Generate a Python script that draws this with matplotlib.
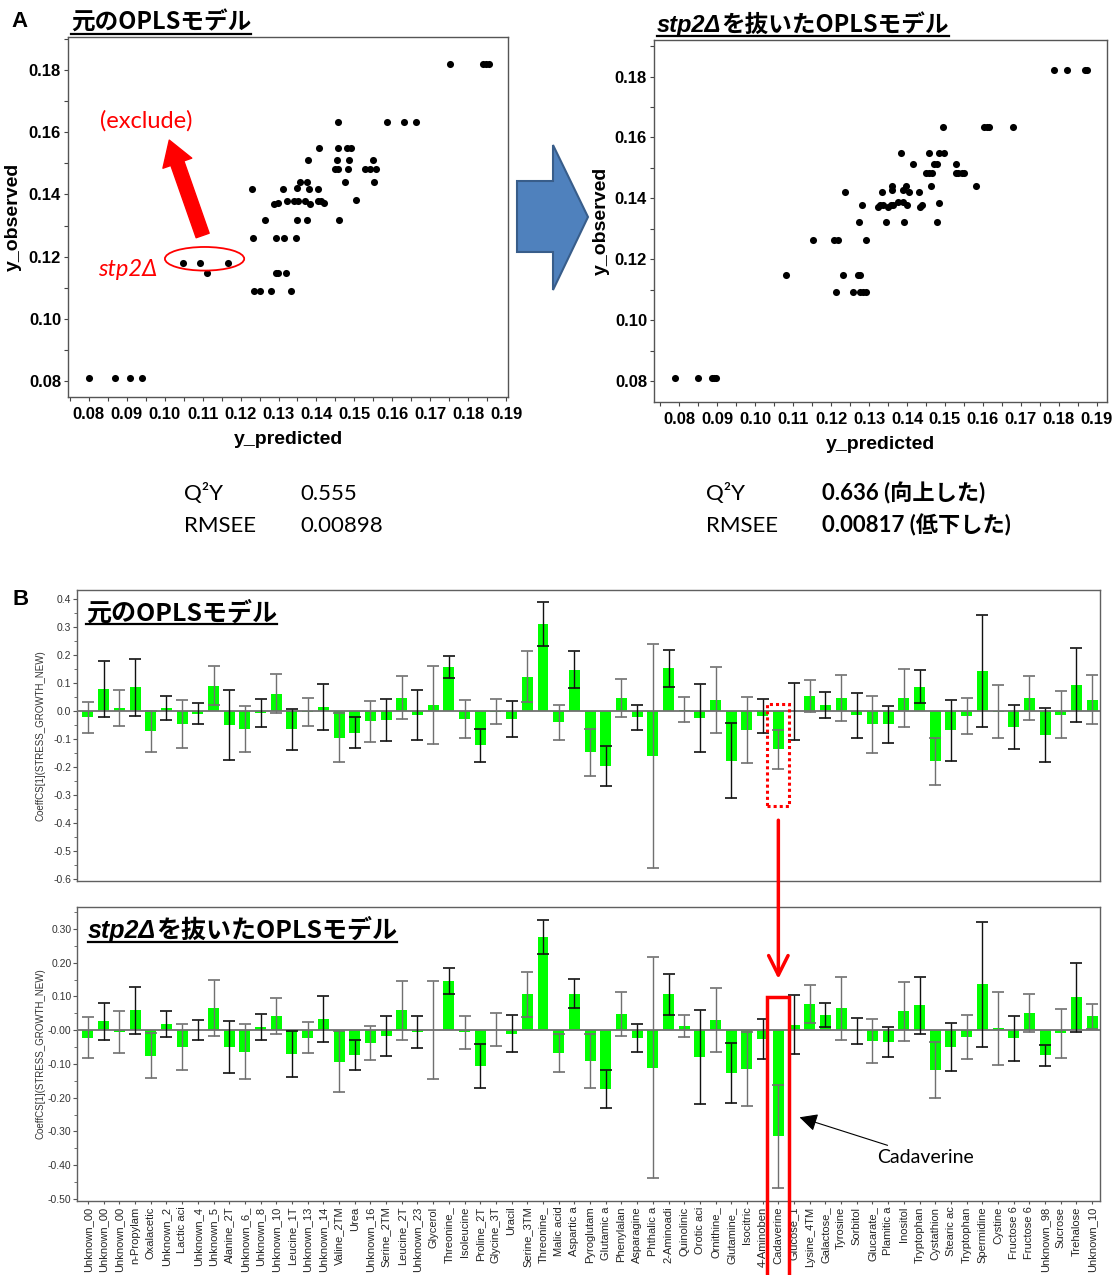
import matplotlib
matplotlib.use('Agg')
import numpy as np
import matplotlib.pyplot as plt
from matplotlib.patches import Ellipse, Rectangle, Polygon, ConnectionPatch
from matplotlib.lines import Line2D

plt.rcParams['font.family'] = ['Liberation Sans', 'Noto Sans CJK JP']

# ---- data: observed vs predicted (panel A) ----
pred_orig = [0.0800, 0.0870, 0.0908, 0.0939, 0.1049, 0.1092, 0.1111, 0.1167, 0.1229, 0.1232,
             0.1236, 0.1250, 0.1265, 0.1280, 0.1289, 0.1293, 0.1293, 0.1298, 0.1298, 0.1312,
             0.1315, 0.1320, 0.1322, 0.1332, 0.1342, 0.1346, 0.1348, 0.1351, 0.1349, 0.1357,
             0.1369, 0.1374, 0.1376, 0.1379, 0.1381, 0.1383, 0.1403, 0.1403, 0.1407, 0.1413,
             0.1420, 0.1449, 0.1456, 0.1454, 0.1456, 0.1457, 0.1460, 0.1476, 0.1480, 0.1483,
             0.1485, 0.1492, 0.1505, 0.1527, 0.1540, 0.1549, 0.1552, 0.1558, 0.1585, 0.1630,
             0.1663, 0.1751, 0.1838, 0.1847, 0.1854]
obs_orig = [0.0808, 0.0808, 0.0808, 0.0808, 0.1179, 0.1179, 0.1147, 0.1179, 0.1419, 0.1260,
            0.1088, 0.1088, 0.1319, 0.1088, 0.1369, 0.1260, 0.1147, 0.1147, 0.1373, 0.1419,
            0.1260, 0.1147, 0.1378, 0.1088, 0.1378, 0.1260, 0.1319, 0.1378, 0.1422, 0.1439,
            0.1378, 0.1319, 0.1439, 0.1511, 0.1419, 0.1369, 0.1419, 0.1378, 0.1550, 0.1378,
            0.1373, 0.1482, 0.1482, 0.1511, 0.1550, 0.1634, 0.1319, 0.1439, 0.1550, 0.1482,
            0.1511, 0.1550, 0.1383, 0.1482, 0.1482, 0.1511, 0.1439, 0.1482, 0.1634, 0.1634,
            0.1634, 0.1821, 0.1821, 0.1821, 0.1821]

pred_new = [0.0788, 0.0849, 0.0885, 0.0892, 0.0896, 0.1082, 0.1152, 0.1207, 0.1219, 0.1212,
            0.1232, 0.1236, 0.1257, 0.1270, 0.1275, 0.1274, 0.1276, 0.1280, 0.1284, 0.1291,
            0.1291, 0.1324, 0.1328, 0.1334, 0.1337, 0.1344, 0.1349, 0.1357, 0.1359, 0.1361,
            0.1364, 0.1376, 0.1385, 0.1388, 0.1390, 0.1392, 0.1397, 0.1399, 0.1406, 0.1415,
            0.1432, 0.1435, 0.1440, 0.1450, 0.1457, 0.1459, 0.1463, 0.1465, 0.1471, 0.1480,
            0.1480, 0.1484, 0.1484, 0.1495, 0.1497, 0.1528, 0.1528, 0.1535, 0.1544, 0.1551,
            0.1581, 0.1603, 0.1610, 0.1617, 0.1680, 0.1788, 0.1822, 0.1869, 0.1875]
obs_new = [0.0809, 0.0809, 0.0809, 0.0809, 0.0809, 0.1149, 0.1262, 0.1262, 0.1262, 0.1092,
           0.1149, 0.1420, 0.1092, 0.1149, 0.1149, 0.1322, 0.1092, 0.1379, 0.1092, 0.1092,
           0.1262, 0.1371, 0.1379, 0.1420, 0.1379, 0.1322, 0.1371, 0.1379, 0.1442, 0.1426,
           0.1379, 0.1387, 0.1550, 0.1426, 0.1387, 0.1322, 0.1442, 0.1379, 0.1420, 0.1512,
           0.1420, 0.1371, 0.1379, 0.1484, 0.1550, 0.1484, 0.1442, 0.1484, 0.1512, 0.1512,
           0.1322, 0.1384, 0.1550, 0.1633, 0.1550, 0.1512, 0.1484, 0.1484, 0.1484, 0.1484,
           0.1442, 0.1633, 0.1633, 0.1633, 0.1633, 0.1822, 0.1822, 0.1822, 0.1822]

# ---- data: coefficient plots (panel B) ----
labels = ['Unknown_00', 'Unknown_00', 'Unknown_00', 'n-Propylam', 'Oxalacetic', 'Unknown_2',
          'Lactic aci', 'Unknown_4', 'Unknown_5', 'Alanine_2T', 'Unknown_6_', 'Unknown_8',
          'Unknown_10', 'Leucine_1T', 'Unknown_13', 'Unknown_14', 'Valine_2TM', 'Urea',
          'Unknown_16', 'Serine_2TM', 'Leucine_2T', 'Unknown_23', 'Glycerol', 'Threonine_',
          'Isoleucine', 'Proline_2T', 'Glycine_3T', 'Uracil', 'Serine_3TM', 'Threonine_',
          'Malic acid', 'Aspartic a', 'Pyroglutam', 'Glutamic a', 'Phenylalan', 'Asparagine',
          'Phthalic a', '2-Aminoadi', 'Quinolinic', 'Orotic aci', 'Ornithine_', 'Glutamine_',
          'Isocitric', '4-Aminoben', 'Cadaverine', 'Glucose_1', 'Lysine_4TM', 'Galactose_',
          'Tyrosine', 'Sorbitol', 'Glucarate_', 'Plamitic a', 'Inositol', 'Tryptophan',
          'Cystathion', 'Stearic ac', 'Tryptophan', 'Spermidine', 'Cystine', 'Fructose 6',
          'Fructose 6', 'Unknown_98', 'Sucrose', 'Trehalose', 'Unknown_10']

coef_orig = [-0.022, 0.078, 0.010, 0.084, -0.072, 0.010, -0.047, -0.010, 0.090, -0.050,
             -0.065, -0.007, 0.062, -0.065, -0.004, 0.014, -0.095, -0.078, -0.037, -0.032,
             0.048, -0.014, 0.020, 0.158, -0.030, -0.122, -0.003, -0.030, 0.123, 0.310,
             -0.040, 0.148, -0.147, -0.196, 0.047, -0.023, -0.161, 0.152, 0.005, -0.025,
             0.038, -0.177, -0.069, -0.017, -0.137, -0.001, 0.053, 0.021, 0.047, -0.016,
             -0.048, -0.048, 0.047, 0.087, -0.180, -0.069, -0.017, 0.142, -0.002, -0.057,
             0.047, -0.087, -0.013, 0.093, 0.041]
err_orig = [0.055, 0.100, 0.065, 0.103, 0.073, 0.042, 0.086, 0.038, 0.070, 0.125,
            0.083, 0.050, 0.070, 0.073, 0.050, 0.082, 0.088, 0.055, 0.073, 0.075,
            0.078, 0.090, 0.139, 0.040, 0.068, 0.059, 0.045, 0.064, 0.092, 0.078,
            0.063, 0.065, 0.084, 0.072, 0.068, 0.046, 0.400, 0.065, 0.045, 0.121,
            0.118, 0.133, 0.118, 0.060, 0.070, 0.102, 0.056, 0.046, 0.083, 0.080,
            0.103, 0.065, 0.104, 0.060, 0.083, 0.109, 0.065, 0.200, 0.096, 0.079,
            0.078, 0.096, 0.083, 0.132, 0.087]

coef_new = [-0.022, 0.027, -0.006, 0.059, -0.075, 0.018, -0.050, 0.000, 0.067, -0.051,
            -0.064, 0.009, 0.042, -0.070, -0.022, 0.033, -0.093, -0.073, -0.037, -0.017,
            0.059, -0.006, 0.000, 0.146, -0.006, -0.106, 0.002, -0.010, 0.106, 0.277,
            -0.067, 0.108, -0.091, -0.173, 0.049, -0.024, -0.111, 0.106, 0.013, -0.079,
            0.030, -0.127, -0.116, -0.026, -0.314, 0.016, 0.077, 0.045, 0.065, -0.002,
            -0.032, -0.035, 0.056, 0.074, -0.119, -0.050, -0.020, 0.136, 0.006, -0.024,
            0.051, -0.074, -0.009, 0.097, 0.041]
err_new = [0.060, 0.055, 0.063, 0.070, 0.068, 0.038, 0.068, 0.030, 0.083, 0.077,
           0.082, 0.039, 0.053, 0.069, 0.047, 0.067, 0.090, 0.045, 0.050, 0.060,
           0.087, 0.048, 0.146, 0.038, 0.049, 0.066, 0.049, 0.055, 0.067, 0.050,
           0.057, 0.043, 0.079, 0.056, 0.065, 0.041, 0.327, 0.061, 0.033, 0.140,
           0.096, 0.089, 0.110, 0.058, 0.153, 0.087, 0.056, 0.036, 0.094, 0.039,
           0.065, 0.045, 0.088, 0.085, 0.083, 0.072, 0.065, 0.185, 0.108, 0.066,
           0.055, 0.031, 0.072, 0.101, 0.038]

yt_top = [0.4, 0.3, 0.2, 0.1, 0.0, -0.1, -0.2, -0.3, -0.4, -0.5, -0.6]
yt_bot = [0.3, 0.2, 0.1, 0.0, -0.1, -0.2, -0.3, -0.4, -0.5]
yt_bot_lab = ['0.30', '0.20', '0.10', '-0.00', '-0.10', '-0.20', '-0.30', '-0.40', '-0.50']

cad = labels.index('Cadaverine')

W, H = 1116, 1275
fig = plt.figure(figsize=(W / 100, H / 100), dpi=100)
renderer = fig.canvas.get_renderer()


def fx(px):
    return px / W


def fy(py):
    return 1 - py / H


def box(x0, y0, x1, y1):
    return [fx(x0), fy(y1), (x1 - x0) / W, (y1 - y0) / H]


def underlined(parts, x_px, base_px, lw=1.6):
    x = fx(x_px)
    start = None
    for s, kw in parts:
        t = fig.text(x, fy(base_px), s, ha='left', va='baseline', **kw)
        bb = t.get_window_extent(renderer)
        if start is None:
            start = bb.x0 / W
        x = bb.x1 / W
    yl = fy(base_px + 3.5)
    fig.add_artist(Line2D([start, x], [yl, yl], transform=fig.transFigure,
                          color='black', lw=lw))


jp = dict(family=['Noto Sans CJK JP'], weight='bold')
it = dict(family=['Liberation Sans'], weight='bold', style='italic')


def scatter_panel(ax, xs, ys, xlim, ylim, xlab_y, ylab_x):
    ax.scatter(xs, ys, s=26, color='black', zorder=3, linewidths=0)
    ax.set_xticks(np.round(np.arange(0.08, 0.1901, 0.01), 2))
    ax.set_xticks(np.round(np.arange(0.075, 0.1951, 0.005), 3), minor=True)
    ax.set_yticks(np.round(np.arange(0.08, 0.1801, 0.02), 2))
    ax.set_yticks(np.round(np.arange(0.08, 0.1901, 0.01), 2), minor=True)
    ax.set_xlim(*xlim)
    ax.set_ylim(*ylim)
    ax.xaxis.set_major_formatter(matplotlib.ticker.FormatStrFormatter('%.2f'))
    ax.yaxis.set_major_formatter(matplotlib.ticker.FormatStrFormatter('%.2f'))
    ax.tick_params(which='both', length=3, width=0.8, color='#444', pad=2)
    ax.tick_params(axis='x', pad=4)
    for lab in ax.get_xticklabels() + ax.get_yticklabels():
        lab.set_fontweight('bold')
        lab.set_fontsize(12)
    for sp in ax.spines.values():
        sp.set_color('#555')
        sp.set_linewidth(1.0)
    ax.set_xlabel('y_predicted', fontsize=14, fontweight='bold')
    ax.set_ylabel('y_observed', fontsize=14, fontweight='bold')
    ax.xaxis.set_label_coords(0.5, xlab_y)
    ax.yaxis.set_label_coords(ylab_x, 0.5)


# ---- panel A ----
axA1 = fig.add_axes(box(68, 37, 508, 397))
scatter_panel(axA1, pred_orig, obs_orig, (0.0745, 0.1905), (0.0748, 0.1907), -0.095, -0.105)
axA2 = fig.add_axes(box(654, 40, 1107, 402))
scatter_panel(axA2, pred_new, obs_new, (0.0733, 0.1927), (0.0731, 0.1920), -0.095, -0.097)

axA1.add_patch(Ellipse((0.1105, 0.1193), 0.0209, 0.0076, fill=False, ec='red', lw=1.3, zorder=4))
axA1.text(0.0823, 0.1158, 'stp2Δ', color='red', fontsize=17, style='italic',
          family=['Lato', 'DejaVu Sans'], ha='left', va='center')
axA1.text(0.0829, 0.1637, '(exclude)', color='red', fontsize=17,
          family=['Lato', 'DejaVu Sans'], ha='left', va='center')
axA1.annotate('', xy=(0.1012, 0.1575), xytext=(0.1100, 0.1268),
              arrowprops=dict(arrowstyle='simple,head_length=0.8,head_width=1.0,tail_width=0.45',
                              color='red', mutation_scale=22, shrinkA=0, shrinkB=0))

fig.add_artist(Polygon([(fx(517), fy(181)), (fx(553), fy(181)), (fx(553), fy(145)),
                        (fx(588), fy(217)), (fx(553), fy(290)), (fx(553), fy(252)),
                        (fx(517), fy(252))], closed=True, transform=fig.transFigure,
                       facecolor='#4F81BD', edgecolor='#385D8A', lw=1.5))

fig.text(fx(11), fy(27), 'A', fontsize=16, fontweight='bold')
underlined([('元のOPLSモデル', dict(size=17, **jp))], 71, 30)
underlined([('stp2Δ', dict(size=17, **it)), ('を抜いたOPLSモデル', dict(size=17, **jp))], 657, 32)

stat = dict(fontsize=16, family=['Lato', 'Noto Sans CJK JP'])
fig.text(fx(184), fy(500), 'Q²Y', **stat)
fig.text(fx(300), fy(500), '0.555', **stat)
fig.text(fx(184), fy(532), 'RMSEE', **stat)
fig.text(fx(300), fy(532), '0.00898', **stat)
fig.text(fx(706), fy(500), 'Q²Y', **stat)
fig.text(fx(822), fy(500), '0.636 (向上した)', fontweight='bold', **stat)
fig.text(fx(706), fy(532), 'RMSEE', **stat)
fig.text(fx(822), fy(532), '0.00817 (低下した)', fontweight='bold', **stat)


# ---- panel B ----
def bar_panel(ax, vals, errs, ylim, yticks, ylabs, show_x):
    x = np.arange(len(vals))
    vals = np.array(vals)
    errs = np.array(errs)
    ax.bar(x, vals, width=0.7, color='#00ff00', zorder=2)
    ax.axhline(0, color='#707070', lw=1.3, zorder=3)
    ev = x % 2 == 0
    ax.errorbar(x[ev], vals[ev], yerr=errs[ev], fmt='none', ecolor='#707070',
                elinewidth=1.0, capsize=4.5, capthick=1.2, zorder=4)
    ax.errorbar(x[~ev], vals[~ev], yerr=errs[~ev], fmt='none', ecolor='#111111',
                elinewidth=1.0, capsize=4.5, capthick=1.2, zorder=4)
    ax.set_yticks(yticks)
    ax.set_yticklabels(ylabs)
    ax.set_yticks(np.arange(-0.6, 0.45, 0.05), minor=True)
    ax.set_xticks(x)
    ax.set_xlim(-0.7, len(vals) - 0.5)
    ax.set_ylim(*ylim)
    ax.tick_params(axis='y', which='major', labelsize=7.5, labelcolor='#333', length=3,
                   color='#555', pad=1)
    ax.tick_params(axis='y', which='minor', length=2, color='#555')
    if show_x:
        ax.set_xticklabels(labels, rotation=90, fontsize=8, color='#222')
        ax.tick_params(axis='x', length=2, color='#555', pad=2)
    else:
        ax.set_xticklabels([])
        ax.tick_params(axis='x', length=0)
    for sp in ax.spines.values():
        sp.set_color('#606060')
        sp.set_linewidth(1.0)
    ax.set_ylabel('CoeffCS[1](STRESS_GROWTH_NEW)', fontsize=7, color='#333')
    ax.yaxis.set_label_coords(-0.031, 0.5)


axB1 = fig.add_axes(box(77, 590, 1100, 881))
bar_panel(axB1, coef_orig, err_orig, (-0.607, 0.432), yt_top,
          ['%.1f' % v for v in yt_top], False)
axB2 = fig.add_axes(box(77, 907, 1100, 1201))
bar_panel(axB2, coef_new, err_new, (-0.506, 0.365), yt_bot, yt_bot_lab, True)

fig.text(fx(13), fy(605), 'B', fontsize=16, fontweight='bold')
underlined([('元のOPLSモデル', dict(size=18, **jp))], 86, 621)
underlined([('stp2Δ', dict(size=18, **it)), ('を抜いたOPLSモデル', dict(size=18, **jp))], 88, 938)

axB1.add_patch(Rectangle((cad - 0.7, -0.34), 1.4, 0.364, fill=False, ec='red',
                         lw=2.2, ls=(0, (1, 1)), zorder=6))
axB2.add_patch(Rectangle((cad - 0.7, -0.73), 1.4, 0.828, fill=False, ec='red',
                         lw=2.5, zorder=6, clip_on=False))
con = ConnectionPatch(xyA=(cad, -0.39), coordsA=axB1.transData,
                      xyB=(cad, 0.152), coordsB=axB2.transData,
                      arrowstyle='->,head_length=0.7,head_width=0.35', color='red',
                      lw=2.5, mutation_scale=20, shrinkA=0, shrinkB=0, zorder=7)
fig.add_artist(con)

axB2.annotate('Cadaverine', xy=(cad + 1.35, -0.258), xytext=(cad + 6.3, -0.377),
              fontsize=14, family=['Lato', 'DejaVu Sans'], ha='left', va='center',
              arrowprops=dict(arrowstyle='-|>,head_length=0.6,head_width=0.3', color='black',
                              lw=0.8, mutation_scale=18, shrinkA=2, shrinkB=0))

fig.savefig('out.png', dpi=100)
